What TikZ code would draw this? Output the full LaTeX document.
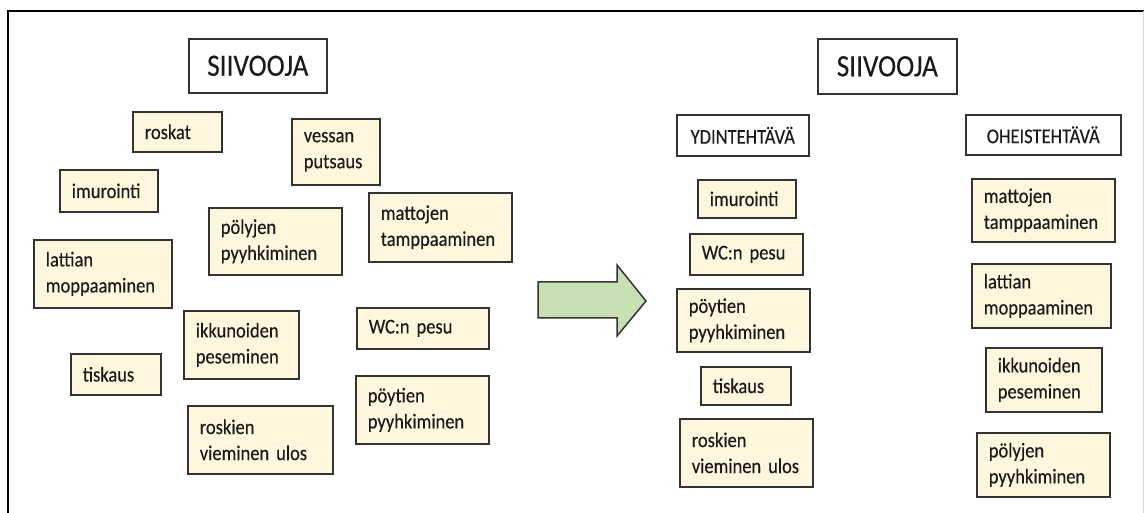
\documentclass[tikz,border=0pt]{standalone}
\usepackage{fontspec}
\setmainfont{Carlito}[FakeStretch=0.88, FakeBold=0.25]
\usetikzlibrary{shadows}
\definecolor{cream}{HTML}{FFF6DE}
\definecolor{boxline}{HTML}{333333}
\definecolor{ink}{HTML}{1A1A1A}
\definecolor{arrowgreen}{HTML}{C6E0B4}
\begin{document}
\begin{tikzpicture}[x=1pt,y=-1pt,
  card/.style={draw=boxline, line width=1.6pt, anchor=north west, text=ink,
    inner ysep=0pt, general shadow={fill=black!25, shadow xshift=1pt, shadow yshift=-1.2pt}},
  task/.style={card, fill=cream, inner xsep=12pt, align=left,
    font=\fontsize{21}{26}\selectfont},
  head/.style={card, fill=white, inner xsep=0pt, align=center},
  bigtitle/.style={head, font=\fontsize{31}{34}\selectfont},
  coltitle/.style={head, font=\fontsize{21}{24}\selectfont}]
\useasboundingbox (0,0) rectangle (1144,513);
% outer frame
\draw[line width=2pt, black] (8,513) -- (8,11) -- (1144,11);
\draw[line width=1pt, black!15] (1143,11) -- (1143,513);

% left: unsorted tasks
\node[bigtitle, minimum width=138pt, minimum height=54pt] (siivL) at (188,38) {SIIVOOJA};
\node[task, minimum width=89pt, text width=65pt, minimum height=40pt] (roskat) at (132,111) {roskat};
\node[task, minimum width=88pt, text width=64pt, minimum height=66pt] (vessa) at (291,118) {vessan\\putsaus};
\node[task, minimum width=98pt, text width=74pt, minimum height=42pt] (imurL) at (59,169) {imurointi};
\node[task, minimum width=133pt, text width=109pt, minimum height=67pt] (polyL) at (208,207) {pölyjen\\pyyhkiminen};
\node[task, minimum width=143pt, text width=119pt, minimum height=69pt] (mattoL) at (368,192) {mattojen\\tamppaaminen};
\node[task, minimum width=138pt, text width=114pt, minimum height=68pt] (lattL) at (33,239) {lattian\\moppaaminen};
\node[task, minimum width=115pt, text width=91pt, minimum height=68pt] (ikkL) at (183,310) {ikkunoiden\\peseminen};
\node[task, minimum width=90pt, text width=66pt, minimum height=41pt] (tiskL) at (70,353) {tiskaus};
\node[task, minimum width=132pt, text width=108pt, minimum height=41pt] (wcL) at (356,307) {WC:n pesu};
\node[task, minimum width=133pt, text width=109pt, minimum height=68pt] (poytL) at (355,375) {pöytien\\pyyhkiminen};
\node[task, minimum width=145pt, text width=121pt, minimum height=68pt] (roskL) at (187,405) {roskien\\vieminen ulos};

% block arrow
\draw[line width=1.5pt, draw=boxline, fill=arrowgreen, line join=miter]
  (538,282) -- (617,282) -- (617,265) -- (646,301) -- (617,336) -- (617,318) -- (538,318) -- cycle;

% right: sorted tasks
\node[bigtitle, minimum width=139pt, minimum height=55pt] (siivR) at (817,38) {SIIVOOJA};
\node[coltitle, minimum width=132pt, minimum height=41pt] (ydin) at (676,114) {YDINTEHTÄVÄ};
\node[coltitle, minimum width=155pt, minimum height=40pt] (ohei) at (965,114) {OHEISTEHTÄVÄ};

\node[task, minimum width=98pt, text width=74pt, minimum height=38pt] (imurR) at (697,179) {imurointi};
\node[task, minimum width=113pt, text width=89pt, minimum height=41pt] (wcR) at (689,233) {WC:n pesu};
\node[task, minimum width=133pt, text width=109pt, minimum height=63pt] (poytR) at (676,288) {pöytien\\pyyhkiminen};
\node[task, minimum width=90pt, text width=66pt, minimum height=38pt] (tiskR) at (700,366) {tiskaus};
\node[task, minimum width=133pt, text width=109pt, minimum height=68pt] (roskR) at (679,418) {roskien\\vieminen ulos};

\node[task, minimum width=143pt, text width=119pt, minimum height=63pt] (mattoR) at (971,178) {mattojen\\tamppaaminen};
\node[task, minimum width=139pt, text width=115pt, minimum height=64pt] (lattR) at (971,263) {lattian\\moppaaminen};
\node[task, minimum width=116pt, text width=92pt, minimum height=64pt] (ikkR) at (985,347) {ikkunoiden\\peseminen};
\node[task, minimum width=133pt, text width=109pt, minimum height=64pt] (polyR) at (976,432) {pölyjen\\pyyhkiminen};
\end{tikzpicture}
\end{document}
